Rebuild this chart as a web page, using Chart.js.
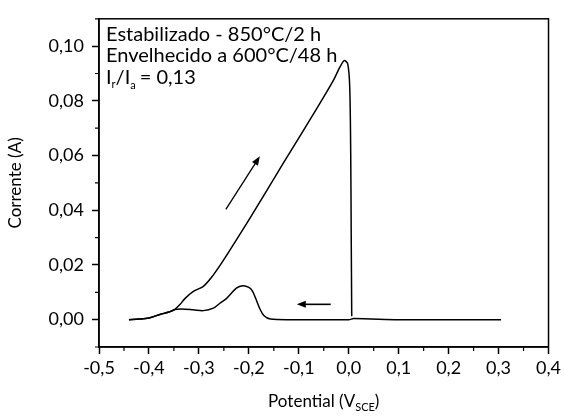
<!DOCTYPE html>
<html>
<head>
<meta charset="utf-8">
<script src="https://cdn.jsdelivr.net/npm/chart.js@4"></script>
<style>
  html, body { margin: 0; padding: 0; background: #fff; }
  #wrap { width: 564px; height: 420px; }
</style>
</head>
<body>
<div id="wrap"><canvas id="chart"></canvas></div>
<script>
// forward scan (V vs SCE, A)
const forwardV = [-0.44, -0.42, -0.40, -0.378, -0.36, -0.348, -0.338, -0.328, -0.311, -0.291, -0.275, -0.255, -0.241,
  -0.198, -0.131, -0.065, -0.031, -0.018, -0.009, -0.002, 0.002, 0.004, 0.005, 0.006];
const forwardI = [0.0, 0.0002, 0.0006, 0.0019, 0.0028, 0.0038, 0.0055, 0.0077, 0.0103, 0.0122, 0.0154, 0.0206, 0.0245,
  0.0370, 0.0572, 0.0769, 0.0874, 0.0922, 0.0947, 0.0935, 0.0850, 0.0600, 0.0300, 0.0012];

// reverse scan
const reverseV = [0.305, 0.2, 0.1, 0.010, 0.0, -0.1, -0.157, -0.17, -0.178, -0.185, -0.193, -0.2, -0.212, -0.225,
  -0.245, -0.258, -0.271, -0.291, -0.311, -0.335, -0.348, -0.36, -0.378, -0.40, -0.42, -0.44];
const reverseI = [0.0, 0.0, 0.0, 0.0004, 0.0, 0.0, 0.0002, 0.0015, 0.0040, 0.0072, 0.0105, 0.0118, 0.0124, 0.0115,
  0.0077, 0.0060, 0.0042, 0.0033, 0.0036, 0.0039, 0.0037, 0.0028, 0.0019, 0.0006, 0.0002, 0.0];

const xTicks = [-0.5, -0.4, -0.3, -0.2, -0.1, 0.0, 0.1, 0.2, 0.3, 0.4];
const yTicks = [0.0, 0.02, 0.04, 0.06, 0.08, 0.10];

const infoLines = ['Estabilizado - 850°C/2 h', 'Envelhecido a 600°C/48 h'];
const ratioText = '= 0,13';

// arrows in data units [x1, y1, x2, y2]
const upArrow = [-0.246, 0.0403, -0.178, 0.0597];
const leftArrow = [-0.036, 0.0056, -0.104, 0.0056];

const FONT = 'Lato';

function pts(xs, ys) {
  return xs.map((x, i) => ({ x: x, y: ys[i] }));
}

function drawArrow(ctx, x1, y1, x2, y2) {
  const ang = Math.atan2(y2 - y1, x2 - x1);
  const hl = 9, hw = 3.5;
  ctx.beginPath();
  ctx.moveTo(x1, y1);
  ctx.lineTo(x2 - Math.cos(ang) * hl * 0.8, y2 - Math.sin(ang) * hl * 0.8);
  ctx.stroke();
  ctx.beginPath();
  ctx.moveTo(x2, y2);
  ctx.lineTo(x2 - Math.cos(ang) * hl - Math.sin(ang) * hw, y2 - Math.sin(ang) * hl + Math.cos(ang) * hw);
  ctx.lineTo(x2 - Math.cos(ang) * hl + Math.sin(ang) * hw, y2 - Math.sin(ang) * hl - Math.cos(ang) * hw);
  ctx.closePath();
  ctx.fill();
}

const extras = {
  id: 'extras',
  afterDraw(chart) {
    const ctx = chart.ctx;
    const a = chart.chartArea;
    const xs = chart.scales.x, ys = chart.scales.y;
    ctx.save();
    ctx.strokeStyle = '#000';
    ctx.fillStyle = '#000';

    // frame
    ctx.lineWidth = 1.5;
    ctx.strokeRect(a.left, a.top, a.right - a.left, a.bottom - a.top);

    // minor ticks
    ctx.lineWidth = 1.2;
    ctx.beginPath();
    for (let i = 0; i < xTicks.length - 1; i++) {
      const px = xs.getPixelForValue((xTicks[i] + xTicks[i + 1]) / 2);
      ctx.moveTo(px, a.bottom);
      ctx.lineTo(px, a.bottom + 4);
    }
    for (let v = -0.01; v < 0.115; v += 0.02) {
      const py = ys.getPixelForValue(v);
      ctx.moveTo(a.left, py);
      ctx.lineTo(a.left - 4, py);
    }
    ctx.stroke();

    // arrows
    ctx.lineWidth = 1.3;
    drawArrow(ctx, xs.getPixelForValue(upArrow[0]), ys.getPixelForValue(upArrow[1]),
      xs.getPixelForValue(upArrow[2]), ys.getPixelForValue(upArrow[3]));
    ctx.lineWidth = 1.6;
    drawArrow(ctx, xs.getPixelForValue(leftArrow[0]), ys.getPixelForValue(leftArrow[1]),
      xs.getPixelForValue(leftArrow[2]), ys.getPixelForValue(leftArrow[3]));

    // info text
    const tx = a.left + 7;
    ctx.textAlign = 'left';
    ctx.textBaseline = 'alphabetic';
    ctx.font = '20px ' + FONT;
    ctx.fillText(infoLines[0], tx, a.top + 22);
    ctx.fillText(infoLines[1], tx, a.top + 43);
    let cx = tx;
    const by = a.top + 65;
    ctx.fillText('I', cx, by); cx += ctx.measureText('I').width;
    ctx.font = '11px ' + FONT;
    ctx.fillText('r', cx, by + 4); cx += ctx.measureText('r').width;
    ctx.font = '20px ' + FONT;
    ctx.fillText('/I', cx, by); cx += ctx.measureText('/I').width;
    ctx.font = '11px ' + FONT;
    ctx.fillText('a', cx, by + 5); cx += ctx.measureText('a').width + 4;
    ctx.font = '20px ' + FONT;
    ctx.fillText(ratioText, cx, by);

    // x axis title with subscript
    const main = 'Potential (V', sub = 'SCE', end = ')';
    ctx.font = '17px ' + FONT;
    const w1 = ctx.measureText(main).width, w3 = ctx.measureText(end).width;
    ctx.font = '11px ' + FONT;
    const w2 = ctx.measureText(sub).width;
    const x0 = (a.left + a.right) / 2 - (w1 + w2 + w3) / 2;
    const ty = 407;
    ctx.font = '17px ' + FONT;
    ctx.fillText(main, x0, ty);
    ctx.font = '11px ' + FONT;
    ctx.fillText(sub, x0 + w1, ty + 4);
    ctx.font = '17px ' + FONT;
    ctx.fillText(end, x0 + w1 + w2, ty);
    ctx.restore();
  }
};

new Chart(document.getElementById('chart'), {
  type: 'scatter',
  data: {
    datasets: [
      {
        data: pts(forwardV, forwardI),
        showLine: true,
        borderColor: '#000',
        borderWidth: 1.5,
        pointRadius: 0,
        tension: 0.3
      },
      {
        data: pts(reverseV, reverseI),
        showLine: true,
        borderColor: '#000',
        borderWidth: 1.5,
        pointRadius: 0,
        tension: 0.3
      }
    ]
  },
  options: {
    responsive: true,
    maintainAspectRatio: false,
    animation: false,
    layout: { padding: { top: 7, right: 15, left: 0, bottom: 0 } },
    plugins: { legend: { display: false }, tooltip: { enabled: false } },
    scales: {
      x: {
        type: 'linear',
        min: -0.5,
        max: 0.4,
        afterBuildTicks(scale) {
          scale.ticks = xTicks.map(v => ({ value: v }));
        },
        afterFit(scale) { scale.height = 73; },
        ticks: {
          color: '#000',
          font: { family: FONT, size: 18 },
          padding: 3,
          maxRotation: 0,
          autoSkip: false,
          callback: v => (Math.round(v * 10) / 10).toFixed(1).replace('.', ',')
        },
        grid: { drawOnChartArea: false, tickLength: 7, tickColor: '#000', tickWidth: 1.5 },
        border: { display: true, color: '#000', width: 1.5 }
      },
      y: {
        type: 'linear',
        min: -0.01,
        max: 0.11,
        afterBuildTicks(scale) {
          scale.ticks = yTicks.map(v => ({ value: v }));
        },
        afterFit(scale) { scale.width = 99; },
        ticks: {
          color: '#000',
          font: { family: FONT, size: 18 },
          padding: 8,
          autoSkip: false,
          callback: v => v.toFixed(2).replace('.', ',')
        },
        title: {
          display: true,
          text: 'Corrente (A)',
          color: '#000',
          font: { family: FONT, size: 17 },
          padding: { top: 5, bottom: 0 }
        },
        grid: { drawOnChartArea: false, tickLength: 7, tickColor: '#000', tickWidth: 1.5 },
        border: { display: true, color: '#000', width: 1.5 }
      }
    }
  },
  plugins: [extras]
});
</script>
</body>
</html>
